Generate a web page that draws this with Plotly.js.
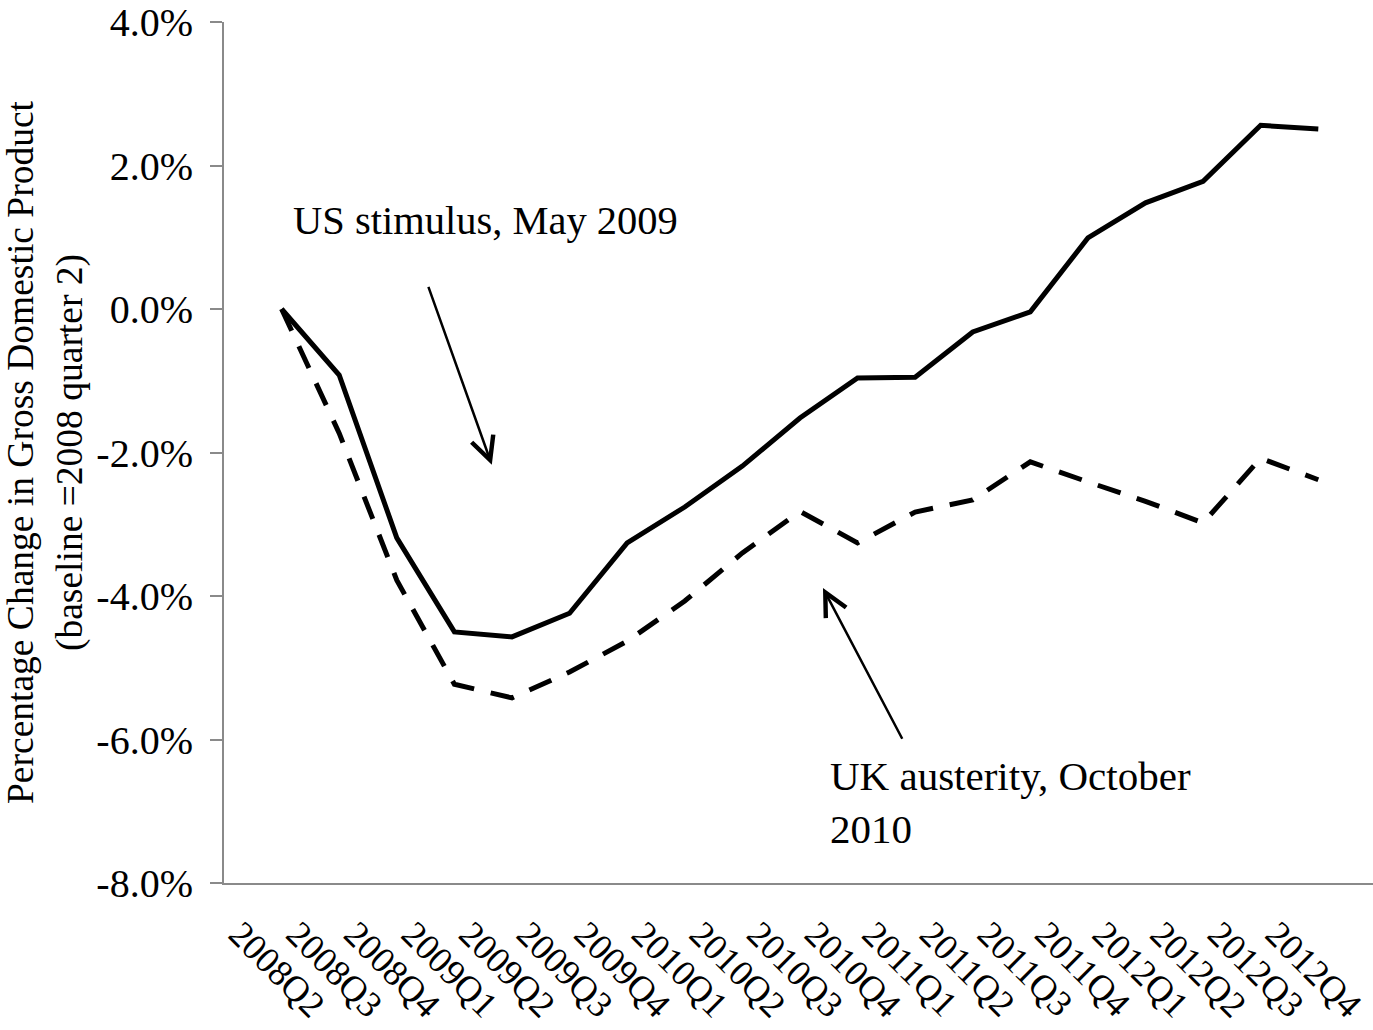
<!DOCTYPE html>
<html>
<head>
<meta charset="utf-8">
<script src="https://cdn.plot.ly/plotly-3.0.1.min.js"></script>
<style>
  html, body { margin: 0; padding: 0; background: #fff; }
  #chart { width: 1373px; height: 1030px; }
</style>
</head>
<body>
<div id="chart"></div>
<script>
const quarters = ['2008Q2','2008Q3','2008Q4','2009Q1','2009Q2','2009Q3','2009Q4',
  '2010Q1','2010Q2','2010Q3','2010Q4','2011Q1','2011Q2','2011Q3','2011Q4',
  '2012Q1','2012Q2','2012Q3','2012Q4'];
const usGDP = [0.0, -0.92, -3.19, -4.50, -4.57, -4.24, -3.26, -2.76, -2.19, -1.52,
  -0.96, -0.95, -0.32, -0.04, 0.99, 1.48, 1.78, 2.56, 2.51];
const ukGDP = [0.0, -1.73, -3.78, -5.23, -5.42, -5.06, -4.63, -4.07, -3.40, -2.82,
  -3.26, -2.83, -2.66, -2.13, -2.41, -2.68, -2.98, -2.08, -2.38];
const yTickVals = [-8, -6, -4, -2, 0, 2, 4];
const yTickText = ['-8.0%', '-6.0%', '-4.0%', '-2.0%', '0.0%', '2.0%', '4.0%'];

const FONT = 'Liberation Serif, Times New Roman, serif';

const traces = [
  { x: quarters, y: usGDP, type: 'scatter', mode: 'lines', name: 'US',
    line: { color: '#000', width: 5 } },
  { x: quarters, y: ukGDP, type: 'scatter', mode: 'lines', name: 'UK',
    line: { color: '#000', width: 5, dash: '24px,17px' } }
];

const layout = {
  width: 1373, height: 1030,
  margin: { l: 224, r: 0, t: 22, b: 147 },
  paper_bgcolor: '#fff', plot_bgcolor: '#fff',
  showlegend: false,
  font: { family: FONT, color: '#000', size: 38 },
  xaxis: {
    type: 'category',
    range: [-1, 18.95],
    showgrid: false, zeroline: false,
    showline: true, linecolor: '#8a8a8a', linewidth: 2,
    ticks: '',
    tickangle: 45,
    ticklabelshift: -42,
    ticklabelstandoff: 13,
    tickfont: { family: FONT, size: 36.5, color: '#000' },
    automargin: false
  },
  yaxis: {
    range: [-8, 4],
    tickvals: yTickVals, ticktext: yTickText,
    showgrid: false, zeroline: false,
    showline: true, linecolor: '#8a8a8a', linewidth: 2,
    ticks: 'outside', ticklen: 12, tickwidth: 2, tickcolor: '#8a8a8a',
    ticklabelstandoff: 9,
    tickfont: { family: FONT, size: 40, color: '#000' },
    automargin: false,
    title: {
      text: 'Percentage Change in Gross Domestic Product<br>(baseline =2008 quarter 2)',
      font: { family: FONT, size: 37.5, color: '#000' },
      standoff: 10
    }
  },
  annotations: [
    { text: 'US stimulus, May 2009', xref: 'x', yref: 'y', x: 0.16, y: 1.24,
      xanchor: 'left', yanchor: 'middle', showarrow: false,
      font: { family: FONT, size: 40.5, color: '#000' } },
    { text: 'UK austerity, October<br>2010', xref: 'x', yref: 'y', x: 9.48, y: -6.88,
      xanchor: 'left', yanchor: 'middle', align: 'left', showarrow: false,
      font: { family: FONT, size: 41, color: '#000' } },
    { text: '', xref: 'x', yref: 'y', x: 3.65, y: -2.17,
      axref: 'x', ayref: 'y', ax: 2.54, ay: 0.33,
      showarrow: true, arrowhead: 5, arrowsize: 1.8, arrowwidth: 2.5, arrowcolor: '#000' },
    { text: '', xref: 'x', yref: 'y', x: 9.40, y: -3.89,
      axref: 'x', ayref: 'y', ax: 10.79, ay: -6.01,
      showarrow: true, arrowhead: 5, arrowsize: 1.8, arrowwidth: 2.5, arrowcolor: '#000' }
  ]
};

Plotly.newPlot('chart', traces, layout, { displayModeBar: false, staticPlot: true });
</script>
</body>
</html>
